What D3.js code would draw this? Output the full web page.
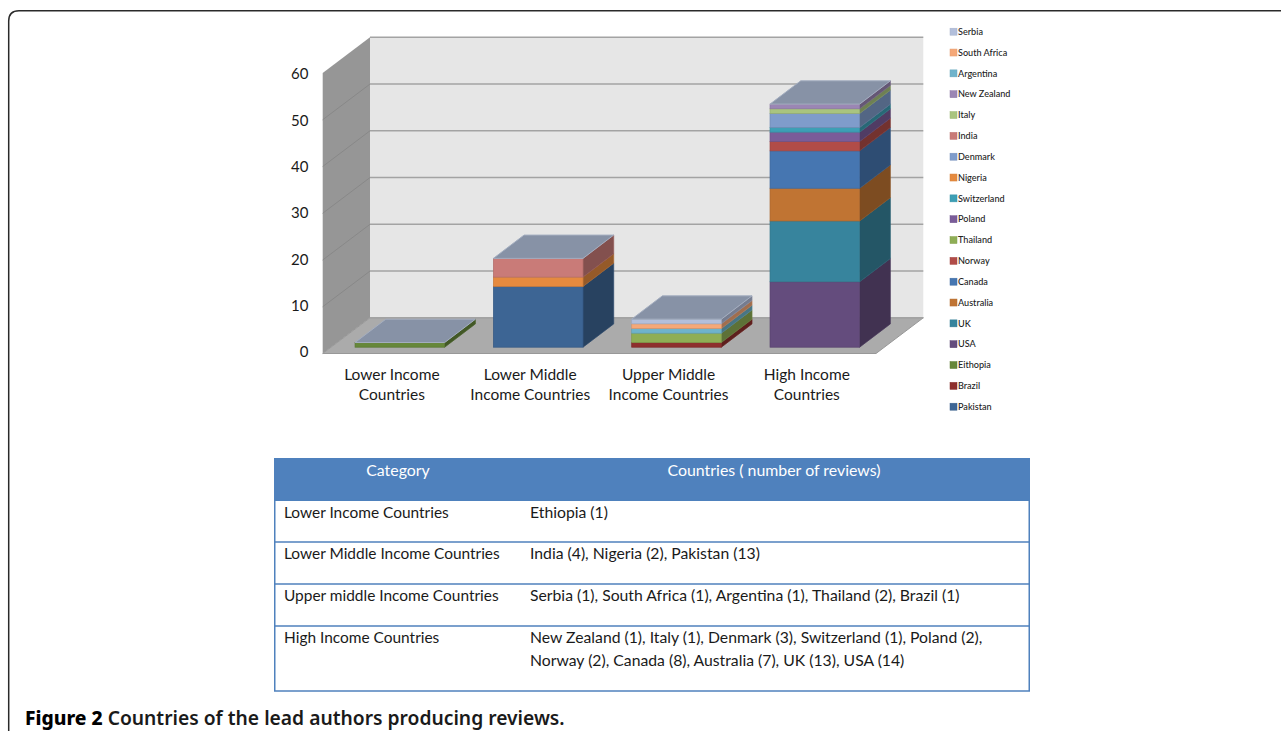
<!DOCTYPE html>
<html>
<head>
<meta charset="utf-8">
<script src="https://cdnjs.cloudflare.com/ajax/libs/d3/7.8.5/d3.min.js"></script>
<style>
html,body{margin:0;padding:0;background:#fff;overflow:hidden}
svg{display:block}
text{font-family:Lato,"Noto Sans",sans-serif}
</style>
</head>
<body>
<svg id="chart" width="1281" height="731"></svg>
<script>
// Income groups along the x axis
const categories = ["Lower Income Countries", "Lower Middle Income Countries", "Upper Middle Income Countries", "High Income Countries"];
const categoryLines = [["Lower Income", "Countries"], ["Lower Middle", "Income Countries"], ["Upper Middle", "Income Countries"], ["High Income", "Countries"]];

// Stack order, bottom to top
const countries = ["Pakistan", "Brazil", "Eithopia", "USA", "UK", "Australia", "Canada", "Norway", "Thailand", "Poland", "Switzerland", "Nigeria", "Denmark", "India", "Italy", "New Zealand", "Argentina", "South Africa", "Serbia"];
const colours = ["#3d6594", "#8e2f2d", "#66873a", "#644c7d", "#37849d", "#c07433", "#4676b1", "#b14c48", "#8fae55", "#7a5c99", "#3d9fb5", "#e58a3f", "#7f9ccb", "#c97b78", "#a9c47f", "#9b86b4", "#6fb3cb", "#f5a878", "#b3bfdb"];

// Reviews per country, one row per income group, same order as `countries`
const lowerIncome  = [0, 0, 1, 0, 0, 0, 0, 0, 0, 0, 0, 0, 0, 0, 0, 0, 0, 0, 0];
const lowerMiddle  = [13, 0, 0, 0, 0, 0, 0, 0, 0, 0, 0, 2, 0, 4, 0, 0, 0, 0, 0];
const upperMiddle  = [0, 1, 0, 0, 0, 0, 0, 0, 2, 0, 0, 0, 0, 0, 0, 0, 1, 1, 1];
const highIncome   = [0, 0, 0, 14, 13, 7, 8, 2, 0, 2, 1, 0, 3, 0, 1, 1, 0, 0, 0];
const groupValues = [lowerIncome, lowerMiddle, upperMiddle, highIncome];

const yTicks = [0, 10, 20, 30, 40, 50, 60];

// Summary table
const tableHeader = ["Category", "Countries ( number of reviews)"];
const tableRows = [
  ["Lower Income Countries", ["Ethiopia (1)"]],
  ["Lower Middle Income Countries", ["India (4), Nigeria (2), Pakistan (13)"]],
  ["Upper middle Income Countries", ["Serbia (1), South Africa (1), Argentina (1), Thailand (2), Brazil (1)"]],
  ["High Income Countries", ["New Zealand (1), Italy (1), Denmark (3), Switzerland (1), Poland (2),", "Norway (2), Canada (8), Australia (7), UK (13), USA (14)"]]
];
const captionLead = "Figure 2";
const captionRest = " Countries of the lead authors producing reviews.";

const svg = d3.select("#chart");

// Rounded panel outline, open on the right and at the bottom
svg.append("path")
  .attr("d", "M8.7,731V21Q8.7,10.7 19,10.7H1281")
  .attr("fill", "none").attr("stroke", "#2a2a2a").attr("stroke-width", 1.5);

// Oblique projection: the front plane plus a fixed offset for the back wall
const frontLeft = 322.7, frontRight = 876, frontBase = 353.5;
const wall = {dx: 47.3, dy: -35.7};
const barDepth = {dx: 30.7, dy: -23.3};
const barInset = {dx: 8, dy: -6.3};

const y = d3.scaleLinear().domain([0, 60]).range([frontBase, frontBase - 280.5]);
const yLabel = d3.scaleLinear().domain([0, 60]).range([352, 74]);
const x = d3.scaleBand().domain(categories).range([frontLeft, frontRight]).paddingInner(0.352).paddingOuter(0.176);

const poly = pts => "M" + pts.map(p => p.join(",")).join("L") + "Z";
const walls = svg.append("g");
const yTop = y(60), y0 = y(0);

// Back wall
walls.append("path")
  .attr("d", poly([[frontLeft + wall.dx, yTop + wall.dy], [frontRight + wall.dx, yTop + wall.dy], [frontRight + wall.dx, y0 + wall.dy], [frontLeft + wall.dx, y0 + wall.dy]]))
  .attr("fill", "#e6e6e6");
// Side wall
walls.append("path")
  .attr("d", poly([[frontLeft, yTop], [frontLeft + wall.dx, yTop + wall.dy], [frontLeft + wall.dx, y0 + wall.dy], [frontLeft, y0]]))
  .attr("fill", "#969696");
// Floor
walls.append("path")
  .attr("d", poly([[frontLeft, y0], [frontRight, y0], [frontRight + wall.dx, y0 + wall.dy], [frontLeft + wall.dx, y0 + wall.dy]]))
  .attr("fill", "#ababab").attr("stroke", "#989898").attr("stroke-width", 1);

// Gridlines: thin on the side wall, heavier across the back wall
walls.selectAll("path.grid-side").data(yTicks.slice(1, -1)).join("path")
  .attr("class", "grid-side")
  .attr("d", d => `M${frontLeft},${y(d)}L${frontLeft + wall.dx},${y(d) + wall.dy}`)
  .attr("fill", "none").attr("stroke", "#888").attr("stroke-width", 1);
walls.selectAll("path.grid-back").data(yTicks).join("path")
  .attr("class", "grid-back")
  .attr("d", d => `M${frontLeft + wall.dx},${y(d) + wall.dy}H${frontRight + wall.dx}`)
  .attr("fill", "none").attr("stroke", "#a3a3a3").attr("stroke-width", 1.6);

// Y axis labels
svg.append("g").selectAll("text").data(yTicks).join("text")
  .attr("x", 308.5).attr("y", d => yLabel(d)).attr("dy", "0.35em")
  .attr("text-anchor", "end").attr("font-size", 15).attr("fill", "#1a1a1a")
  .text(d => d);

// Stacked 3D columns
const stackRows = categories.map((c, i) => {
  const row = {category: c};
  countries.forEach((n, j) => { row[n] = groupValues[i][j]; });
  return row;
});
const stacked = d3.stack().keys(countries)(stackRows);
const colour = d3.scaleOrdinal().domain(countries).range(colours);

const barsLayer = svg.append("g");
categories.forEach((cat, i) => {
  const left = x(cat) + barInset.dx, right = left + x.bandwidth();
  const segs = stacked
    .map(s => ({key: s.key, lo: s[i][0], hi: s[i][1]}))
    .filter(s => s.hi > s.lo);
  const g = barsLayer.append("g");
  segs.forEach(s => {
    const c = colour(s.key);
    const side = d3.color(c).darker(1.2).formatHex();
    const yLo = y(s.lo) + barInset.dy, yHi = y(s.hi) + barInset.dy;
    g.append("path")
      .attr("d", poly([[right, yHi], [right + barDepth.dx, yHi + barDepth.dy], [right + barDepth.dx, yLo + barDepth.dy], [right, yLo]]))
      .attr("fill", side).attr("stroke", d3.color(side).brighter(0.3)).attr("stroke-width", 0.7);
    g.append("rect")
      .attr("x", left).attr("y", yHi).attr("width", right - left).attr("height", yLo - yHi)
      .attr("fill", c).attr("stroke", d3.color(c).darker(0.35)).attr("stroke-width", 0.7);
  });
  // Lid of the column
  const total = segs[segs.length - 1].hi;
  const yT = y(total) + barInset.dy;
  g.append("path")
    .attr("d", poly([[left, yT], [right, yT], [right + barDepth.dx, yT + barDepth.dy], [left + barDepth.dx, yT + barDepth.dy]]))
    .attr("fill", "#8792a6").attr("stroke", "#a4aec0").attr("stroke-width", 1);
});

// Category labels under the floor
svg.append("g").selectAll("text").data(categories).join("text")
  .attr("text-anchor", "middle").attr("font-size", 15.5).attr("fill", "#1a1a1a")
  .each(function (c, i) {
    d3.select(this).selectAll("tspan").data(categoryLines[i]).join("tspan")
      .attr("x", x(c) + x.bandwidth() / 2)
      .attr("y", (d, k) => 380 + k * 20)
      .text(d => d);
  });

// Legend, top of the stack first
const legendOrder = countries.slice().reverse();
const legendY = d3.scalePoint().domain(legendOrder).range([31.7, 406.7]);
const legend = svg.append("g").selectAll("g").data(legendOrder).join("g")
  .attr("transform", d => `translate(950,${legendY(d)})`);
legend.append("rect")
  .attr("x", 0).attr("y", -3.5).attr("width", 7).attr("height", 7)
  .attr("fill", d => colour(d)).attr("stroke", d => d3.color(colour(d)).darker(0.2)).attr("stroke-width", 0.5);
legend.append("text")
  .attr("x", 8).attr("dy", "0.35em").attr("font-size", 9.1).attr("fill", "#222").attr("font-weight", 500)
  .text(d => d);

// Table: frame, header and rows
const tableBlue = "#4f81bd";
const tableLeft = 274, tableRight = 1030;
const rowEdges = d3.scaleOrdinal().domain(d3.range(5)).range([500.5, 542, 584, 626, 691]);
const table = svg.append("g");
table.append("rect")
  .attr("x", tableLeft).attr("y", 458).attr("width", tableRight - tableLeft).attr("height", 43)
  .attr("fill", tableBlue);
table.append("rect")
  .attr("x", tableLeft + 0.75).attr("y", 500).attr("width", tableRight - tableLeft - 1.5).attr("height", 191)
  .attr("fill", "none").attr("stroke", tableBlue).attr("stroke-width", 1.5);
table.selectAll("line").data(d3.range(1, 4)).join("line")
  .attr("x1", tableLeft).attr("x2", tableRight)
  .attr("y1", d => rowEdges(d)).attr("y2", d => rowEdges(d))
  .attr("stroke", tableBlue).attr("stroke-width", 1.5);

const headerAnchors = [398, 774];
table.selectAll("text.head").data(tableHeader).join("text")
  .attr("class", "head")
  .attr("x", (d, i) => headerAnchors[i]).attr("y", 476)
  .attr("text-anchor", "middle").attr("font-size", 15.9).attr("fill", "#fff")
  .text(d => d);

tableRows.forEach((r, i) => {
  const base = rowEdges(i) + 17;
  table.append("text").attr("x", 284).attr("y", base)
    .attr("font-size", 15.45).attr("fill", "#1a1a1a").text(r[0]);
  r[1].forEach((line, k) => {
    table.append("text").attr("x", 530).attr("y", base + k * 23)
      .attr("font-size", 15.75).attr("fill", "#1a1a1a").text(line);
  });
});

// Caption
const caption = svg.append("text").attr("x", 25).attr("y", 725).attr("font-size", 19.25)
  .attr("font-weight", 600).attr("fill", "#1a1a1a").style("font-family", '"Noto Sans",sans-serif');
caption.append("tspan").attr("font-weight", 800).attr("fill", "#000").text(captionLead);
caption.append("tspan").text(captionRest);
</script>
</body>
</html>
